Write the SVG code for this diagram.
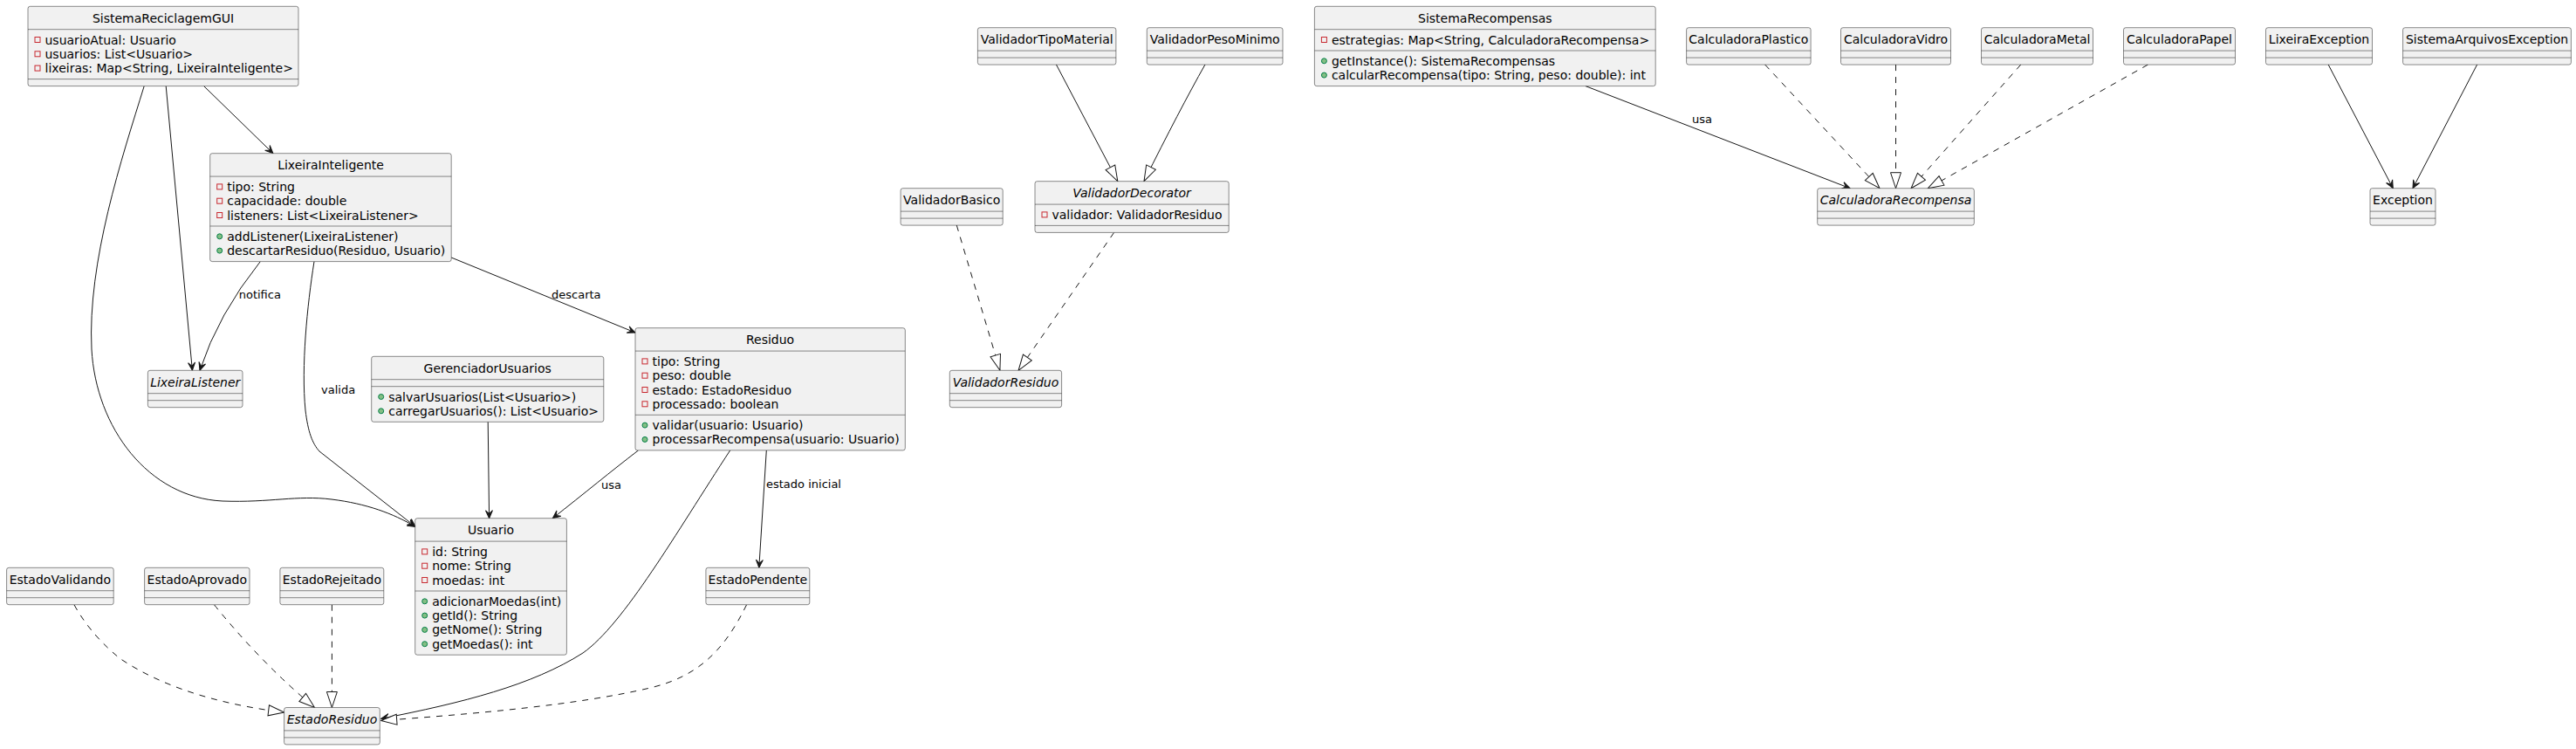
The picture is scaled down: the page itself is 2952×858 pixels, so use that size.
<svg xmlns="http://www.w3.org/2000/svg" width="2952" height="858" viewBox="0 0 2952 858">
<style>
.box{fill:#F1F1F1;stroke:#181818;stroke-width:0.5}
.sep{stroke:#181818;stroke-width:0.5}
text{font-family:"DejaVu Sans",sans-serif;font-size:14px;fill:#000000}
.ti{font-style:italic}
.c{text-anchor:middle}
.lbl{font-size:13px}
.edge{fill:none;stroke:#181818;stroke-width:1}
.dash{stroke-dasharray:7,7}
.priv{fill:none;stroke:#C82930;stroke-width:1}
.pub{fill:#84BE84;stroke:#038048;stroke-width:1}
</style>
<defs>
<marker id="arr" markerUnits="userSpaceOnUse" markerWidth="12" markerHeight="10" refX="10" refY="5" orient="auto" viewBox="0 0 12 10">
<path d="M10,5 L1,1 L5,5 L1,9 Z" fill="#181818" stroke="#181818" stroke-width="1"/>
</marker>
<marker id="tri" markerUnits="userSpaceOnUse" markerWidth="20" markerHeight="14" refX="19" refY="7" orient="auto" viewBox="0 0 20 14">
<path d="M19,7 L1,1 L1,13 Z" fill="#FFFFFF" stroke="#181818" stroke-width="1" stroke-dasharray="none"/>
</marker>
</defs>
<rect width="2952" height="858" fill="#FFFFFF"/>

<g id="connectors">
<path class="edge" d="M233.6,98.6 L312.9,175.7" marker-end="url(#arr)"/>
<path class="edge" d="M190.2,98.6 L220.4,424.3" marker-end="url(#arr)"/>
<path class="edge" d="M165.2,98.6 C140,180 100,300 105,400 C110,490 170,570 255,574 C310,576 340,567 380,572 C420,577 450,588 476,603.3" marker-end="url(#arr)"/>
<path class="edge" d="M298.3,299.6 Q250,360 229,424.3" marker-end="url(#arr)"/>
<path class="edge" d="M360,299.6 C352,350 345,420 350,470 C353,495 358,508 366,517 L476,603.3" marker-end="url(#arr)"/>
<path class="edge" d="M517.2,295 L728,381" marker-end="url(#arr)"/>
<path class="edge" d="M559.2,483.3 L560.6,593.7" marker-end="url(#arr)"/>
<path class="edge" d="M731.5,515.9 C700,540 670,565 633.3,593.7" marker-end="url(#arr)"/>
<path class="edge" d="M836.7,515.9 C775,610 715,715 668,748 C610,785 530,805 436.7,823.3" marker-end="url(#arr)"/>
<path class="edge" d="M878.3,515.9 L869.8,650.3" marker-end="url(#arr)"/>
<path class="edge dash" d="M855.6,692.7 C830,745 800,775 745,788 C660,808 540,818 436.7,825.5" marker-end="url(#tri)"/>
<path class="edge dash" d="M84.9,692.7 C100,720 120,740 137,754 C190,790 260,808 325.6,816" marker-end="url(#tri)"/>
<path class="edge dash" d="M245.4,692.7 Q300,760 360.5,810.5" marker-end="url(#tri)"/>
<path class="edge dash" d="M380.4,692.7 L380.4,810.5" marker-end="url(#tri)"/>
<path class="edge" d="M1210.5,74.1 L1280.8,207.7" marker-end="url(#tri)"/>
<path class="edge" d="M1380.9,74.1 Q1351.7,126 1311,207.7" marker-end="url(#tri)"/>
<path class="edge dash" d="M1096.3,258.1 L1145.9,424.3" marker-end="url(#tri)"/>
<path class="edge dash" d="M1276.6,266.4 L1167.1,424.3" marker-end="url(#tri)"/>
<path class="edge" d="M1817,98.6 L2120,215.7" marker-end="url(#arr)"/>
<path class="edge dash" d="M2022.7,74.1 L2154,215.7" marker-end="url(#tri)"/>
<path class="edge dash" d="M2172.5,74.1 L2172.5,215.7" marker-end="url(#tri)"/>
<path class="edge dash" d="M2315.7,74.1 L2190,215.7" marker-end="url(#tri)"/>
<path class="edge dash" d="M2461.4,74.1 L2209.3,215.7" marker-end="url(#tri)"/>
<path class="edge" d="M2668.2,74.1 L2742.3,215.7" marker-end="url(#arr)"/>
<path class="edge" d="M2838.6,74.1 L2765,215.7" marker-end="url(#arr)"/>
<text class="lbl" x="273.7" y="342.3">notifica</text>
<text class="lbl" x="368" y="451">valida</text>
<text class="lbl" x="632" y="342.3">descarta</text>
<text class="lbl" x="689" y="559.6">usa</text>
<text class="lbl" x="878" y="558.6">estado inicial</text>
<text class="lbl" x="1939" y="141">usa</text>
</g>

<g id="SistemaReciclagemGUI">
<rect class="box" x="32" y="7.3" width="310" height="91.3" rx="2.5"/>
<line class="sep" x1="32" y1="33.7" x2="342" y2="33.7"/>
<line class="sep" x1="32" y1="90.6" x2="342" y2="90.6"/>
<text class="c" x="187" y="25.9">SistemaReciclagemGUI</text>
<rect class="priv" x="40" y="42.5" width="6" height="6"/><text x="51.5" y="50.5">usuarioAtual: Usuario</text>
<rect class="priv" x="40" y="58.8" width="6" height="6"/><text x="51.5" y="66.8">usuarios: List&lt;Usuario&gt;</text>
<rect class="priv" x="40" y="75.1" width="6" height="6"/><text x="51.5" y="83.1">lixeiras: Map&lt;String, LixeiraInteligente&gt;</text>
</g>

<g id="LixeiraInteligente">
<rect class="box" x="240.7" y="175.7" width="276.5" height="123.9" rx="2.5"/>
<line class="sep" x1="240.7" y1="202.1" x2="517.2" y2="202.1"/>
<line class="sep" x1="240.7" y1="259" x2="517.2" y2="259"/>
<text class="c" x="379" y="194.3">LixeiraInteligente</text>
<rect class="priv" x="248.7" y="210.9" width="6" height="6"/><text x="260.2" y="218.9">tipo: String</text>
<rect class="priv" x="248.7" y="227.2" width="6" height="6"/><text x="260.2" y="235.2">capacidade: double</text>
<rect class="priv" x="248.7" y="243.5" width="6" height="6"/><text x="260.2" y="251.5">listeners: List&lt;LixeiraListener&gt;</text>
<circle class="pub" cx="251.7" cy="270.8" r="3"/><text x="260.2" y="275.8">addListener(LixeiraListener)</text>
<circle class="pub" cx="251.7" cy="287.1" r="3"/><text x="260.2" y="292.1">descartarResiduo(Residuo, Usuario)</text>
</g>

<g id="LixeiraListener">
<rect class="box" x="169.4" y="424.3" width="108.6" height="42.4" rx="2.5"/>
<line class="sep" x1="169.4" y1="450.7" x2="278" y2="450.7"/>
<line class="sep" x1="169.4" y1="458.7" x2="278" y2="458.7"/>
<text class="c ti" x="223.7" y="442.9">LixeiraListener</text>
</g>

<g id="GerenciadorUsuarios">
<rect class="box" x="425.7" y="408.3" width="266.1" height="75" rx="2.5"/>
<line class="sep" x1="425.7" y1="434.7" x2="691.8" y2="434.7"/>
<line class="sep" x1="425.7" y1="442.7" x2="691.8" y2="442.7"/>
<text class="c" x="558.7" y="426.9">GerenciadorUsuarios</text>
<circle class="pub" cx="436.7" cy="454.5" r="3"/><text x="445.2" y="459.5">salvarUsuarios(List&lt;Usuario&gt;)</text>
<circle class="pub" cx="436.7" cy="470.8" r="3"/><text x="445.2" y="475.8">carregarUsuarios(): List&lt;Usuario&gt;</text>
</g>

<g id="Residuo">
<rect class="box" x="728" y="375.7" width="309.3" height="140.2" rx="2.5"/>
<line class="sep" x1="728" y1="402.1" x2="1037.3" y2="402.1"/>
<line class="sep" x1="728" y1="475.3" x2="1037.3" y2="475.3"/>
<text class="c" x="882.6" y="394.3">Residuo</text>
<rect class="priv" x="736" y="410.9" width="6" height="6"/><text x="747.5" y="418.9">tipo: String</text>
<rect class="priv" x="736" y="427.2" width="6" height="6"/><text x="747.5" y="435.2">peso: double</text>
<rect class="priv" x="736" y="443.5" width="6" height="6"/><text x="747.5" y="451.5">estado: EstadoResiduo</text>
<rect class="priv" x="736" y="459.8" width="6" height="6"/><text x="747.5" y="467.8">processado: boolean</text>
<circle class="pub" cx="739" cy="487.1" r="3"/><text x="747.5" y="492.1">validar(usuario: Usuario)</text>
<circle class="pub" cx="739" cy="503.4" r="3"/><text x="747.5" y="508.4">processarRecompensa(usuario: Usuario)</text>
</g>

<g id="Usuario">
<rect class="box" x="475.7" y="593.7" width="173.7" height="156.5" rx="2.5"/>
<line class="sep" x1="475.7" y1="620.1" x2="649.4" y2="620.1"/>
<line class="sep" x1="475.7" y1="677" x2="649.4" y2="677"/>
<text class="c" x="562.5" y="612.3">Usuario</text>
<rect class="priv" x="483.7" y="628.9" width="6" height="6"/><text x="495.2" y="636.9">id: String</text>
<rect class="priv" x="483.7" y="645.2" width="6" height="6"/><text x="495.2" y="653.2">nome: String</text>
<rect class="priv" x="483.7" y="661.5" width="6" height="6"/><text x="495.2" y="669.5">moedas: int</text>
<circle class="pub" cx="486.7" cy="688.8" r="3"/><text x="495.2" y="693.8">adicionarMoedas(int)</text>
<circle class="pub" cx="486.7" cy="705.1" r="3"/><text x="495.2" y="710.1">getId(): String</text>
<circle class="pub" cx="486.7" cy="721.4" r="3"/><text x="495.2" y="726.4">getNome(): String</text>
<circle class="pub" cx="486.7" cy="737.7" r="3"/><text x="495.2" y="742.7">getMoedas(): int</text>
</g>

<g id="EstadoValidando">
<rect class="box" x="7.6" y="650.3" width="122.6" height="42.4" rx="2.5"/>
<line class="sep" x1="7.6" y1="676.7" x2="130.2" y2="676.7"/>
<line class="sep" x1="7.6" y1="684.7" x2="130.2" y2="684.7"/>
<text class="c" x="68.9" y="668.9">EstadoValidando</text>
</g>
<g id="EstadoAprovado">
<rect class="box" x="165.6" y="650.3" width="120.4" height="42.4" rx="2.5"/>
<line class="sep" x1="165.6" y1="676.7" x2="286" y2="676.7"/>
<line class="sep" x1="165.6" y1="684.7" x2="286" y2="684.7"/>
<text class="c" x="225.8" y="668.9">EstadoAprovado</text>
</g>
<g id="EstadoRejeitado">
<rect class="box" x="320.9" y="650.3" width="118.9" height="42.4" rx="2.5"/>
<line class="sep" x1="320.9" y1="676.7" x2="439.8" y2="676.7"/>
<line class="sep" x1="320.9" y1="684.7" x2="439.8" y2="684.7"/>
<text class="c" x="380.4" y="668.9">EstadoRejeitado</text>
</g>
<g id="EstadoPendente">
<rect class="box" x="808.9" y="650.3" width="118.9" height="42.4" rx="2.5"/>
<line class="sep" x1="808.9" y1="676.7" x2="927.8" y2="676.7"/>
<line class="sep" x1="808.9" y1="684.7" x2="927.8" y2="684.7"/>
<text class="c" x="868.4" y="668.9">EstadoPendente</text>
</g>
<g id="EstadoResiduo">
<rect class="box" x="325.6" y="810.5" width="109.7" height="42.4" rx="2.5"/>
<line class="sep" x1="325.6" y1="836.9" x2="435.3" y2="836.9"/>
<line class="sep" x1="325.6" y1="844.9" x2="435.3" y2="844.9"/>
<text class="c ti" x="380.5" y="829.1">EstadoResiduo</text>
</g>

<g id="ValidadorTipoMaterial">
<rect class="box" x="1120.4" y="31.7" width="158.5" height="42.4" rx="2.5"/>
<line class="sep" x1="1120.4" y1="58.1" x2="1278.9" y2="58.1"/>
<line class="sep" x1="1120.4" y1="66.1" x2="1278.9" y2="66.1"/>
<text class="c" x="1199.7" y="50.3">ValidadorTipoMaterial</text>
</g>
<g id="ValidadorPesoMinimo">
<rect class="box" x="1314.3" y="31.7" width="155.7" height="42.4" rx="2.5"/>
<line class="sep" x1="1314.3" y1="58.1" x2="1470" y2="58.1"/>
<line class="sep" x1="1314.3" y1="66.1" x2="1470" y2="66.1"/>
<text class="c" x="1392.2" y="50.3">ValidadorPesoMinimo</text>
</g>
<g id="ValidadorBasico">
<rect class="box" x="1032.1" y="215.7" width="117.1" height="42.4" rx="2.5"/>
<line class="sep" x1="1032.1" y1="242.1" x2="1149.2" y2="242.1"/>
<line class="sep" x1="1032.1" y1="250.1" x2="1149.2" y2="250.1"/>
<text class="c" x="1090.7" y="234.3">ValidadorBasico</text>
</g>
<g id="ValidadorDecorator">
<rect class="box" x="1186" y="207.7" width="222.2" height="58.7" rx="2.5"/>
<line class="sep" x1="1186" y1="234.1" x2="1408.2" y2="234.1"/>
<line class="sep" x1="1186" y1="258.4" x2="1408.2" y2="258.4"/>
<text class="c ti" x="1297.1" y="226.3">ValidadorDecorator</text>
<rect class="priv" x="1194" y="242.9" width="6" height="6"/><text x="1205.5" y="250.9">validador: ValidadorResiduo</text>
</g>
<g id="ValidadorResiduo">
<rect class="box" x="1088.3" y="424.3" width="128.3" height="42.4" rx="2.5"/>
<line class="sep" x1="1088.3" y1="450.7" x2="1216.6" y2="450.7"/>
<line class="sep" x1="1088.3" y1="458.7" x2="1216.6" y2="458.7"/>
<text class="c ti" x="1152.5" y="442.9">ValidadorResiduo</text>
</g>

<g id="SistemaRecompensas">
<rect class="box" x="1506.4" y="7.3" width="390.8" height="91.3" rx="2.5"/>
<line class="sep" x1="1506.4" y1="33.7" x2="1897.2" y2="33.7"/>
<line class="sep" x1="1506.4" y1="58" x2="1897.2" y2="58"/>
<text class="c" x="1701.8" y="25.9">SistemaRecompensas</text>
<rect class="priv" x="1514.4" y="42.5" width="6" height="6"/><text x="1525.9" y="50.5">estrategias: Map&lt;String, CalculadoraRecompensa&gt;</text>
<circle class="pub" cx="1517.4" cy="69.8" r="3"/><text x="1525.9" y="74.8">getInstance(): SistemaRecompensas</text>
<circle class="pub" cx="1517.4" cy="86.1" r="3"/><text x="1525.9" y="91.1">calcularRecompensa(tipo: String, peso: double): int</text>
</g>
<g id="CalculadoraPlastico">
<rect class="box" x="1932.6" y="31.7" width="142.5" height="42.4" rx="2.5"/>
<line class="sep" x1="1932.6" y1="58.1" x2="2075.1" y2="58.1"/>
<line class="sep" x1="1932.6" y1="66.1" x2="2075.1" y2="66.1"/>
<text class="c" x="2003.8" y="50.3">CalculadoraPlastico</text>
</g>
<g id="CalculadoraVidro">
<rect class="box" x="2109.5" y="31.7" width="126" height="42.4" rx="2.5"/>
<line class="sep" x1="2109.5" y1="58.1" x2="2235.5" y2="58.1"/>
<line class="sep" x1="2109.5" y1="66.1" x2="2235.5" y2="66.1"/>
<text class="c" x="2172.5" y="50.3">CalculadoraVidro</text>
</g>
<g id="CalculadoraMetal">
<rect class="box" x="2270.5" y="31.7" width="128" height="42.4" rx="2.5"/>
<line class="sep" x1="2270.5" y1="58.1" x2="2398.5" y2="58.1"/>
<line class="sep" x1="2270.5" y1="66.1" x2="2398.5" y2="66.1"/>
<text class="c" x="2334.5" y="50.3">CalculadoraMetal</text>
</g>
<g id="CalculadoraPapel">
<rect class="box" x="2433.5" y="31.7" width="128" height="42.4" rx="2.5"/>
<line class="sep" x1="2433.5" y1="58.1" x2="2561.5" y2="58.1"/>
<line class="sep" x1="2433.5" y1="66.1" x2="2561.5" y2="66.1"/>
<text class="c" x="2497.5" y="50.3">CalculadoraPapel</text>
</g>
<g id="CalculadoraRecompensa">
<rect class="box" x="2082.7" y="215.7" width="179.6" height="42.4" rx="2.5"/>
<line class="sep" x1="2082.7" y1="242.1" x2="2262.3" y2="242.1"/>
<line class="sep" x1="2082.7" y1="250.1" x2="2262.3" y2="250.1"/>
<text class="c ti" x="2172.5" y="234.3">CalculadoraRecompensa</text>
</g>
<g id="LixeiraException">
<rect class="box" x="2596.5" y="31.7" width="122" height="42.4" rx="2.5"/>
<line class="sep" x1="2596.5" y1="58.1" x2="2718.5" y2="58.1"/>
<line class="sep" x1="2596.5" y1="66.1" x2="2718.5" y2="66.1"/>
<text class="c" x="2657.5" y="50.3">LixeiraException</text>
</g>
<g id="SistemaArquivosException">
<rect class="box" x="2753.6" y="31.7" width="192.8" height="42.4" rx="2.5"/>
<line class="sep" x1="2753.6" y1="58.1" x2="2946.4" y2="58.1"/>
<line class="sep" x1="2753.6" y1="66.1" x2="2946.4" y2="66.1"/>
<text class="c" x="2850" y="50.3">SistemaArquivosException</text>
</g>
<g id="Exception">
<rect class="box" x="2716" y="215.7" width="75" height="42.4" rx="2.5"/>
<line class="sep" x1="2716" y1="242.1" x2="2791" y2="242.1"/>
<line class="sep" x1="2716" y1="250.1" x2="2791" y2="250.1"/>
<text class="c" x="2753.5" y="234.3">Exception</text>
</g>
</svg>
